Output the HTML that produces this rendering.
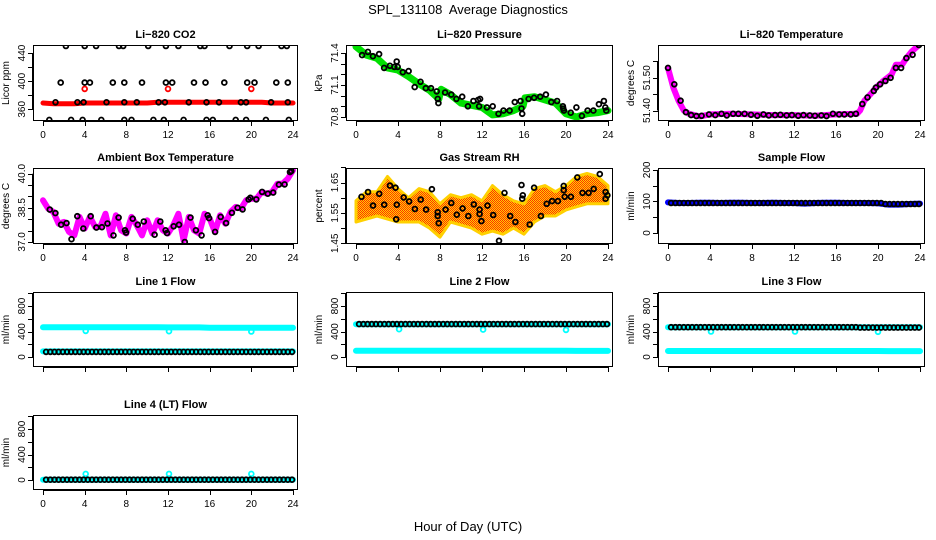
<!DOCTYPE html>
<html><head><meta charset="utf-8">
<style>
html,body{margin:0;padding:0;background:#fff;}
svg{display:block;font-family:"Liberation Sans",Arial,sans-serif;}
</style></head>
<body>
<svg id="chart" width="936" height="540" viewBox="0 0 936 540" xmlns="http://www.w3.org/2000/svg">
<rect x="0" y="0" width="936" height="540" fill="#fff"/>
<text x="468" y="14" text-anchor="middle" font-size="13" xml:space="preserve">SPL_131108  Average Diagnostics</text>
<text x="468" y="531" text-anchor="middle" font-size="13">Hour of Day (UTC)</text>
</svg>
<script>
// ---------- data ----------
const xTicks = [0,4,8,12,16,20,24];

// CO2
const co2TraceHours = [0,1,2,3,4,5,6,7,8,9,10,11,12,13,14,15,16,17,18,19,20,21,22,23,24];
const co2TraceVals = [369,368,368,368,369,369,369,369,369,369,369,370,370,370,370,370,370,370,370,370,370,370,369,369,369];
const co2OutlierHours = [4,12,20];
const co2OutlierVals = [389,389,389];
const co2BlackHours = [2.2,4.0,5.1,7.3,7.7,10.1,11.8,13.0,15.1,15.5,17.9,19.6,20.7,22.9,23.4,
 1.7,4.0,4.5,6.7,7.8,9.5,11.8,12.4,14.5,15.6,17.4,19.6,20.3,22.4,23.5,
 1.2,3.3,3.9,6.1,7.8,9.0,11.1,11.7,14.0,15.7,16.9,19.0,19.5,21.9,23.5,
 0.6,2.7,3.8,5.6,7.8,8.5,10.6,11.6,13.5,15.7,16.3,18.5,19.5,21.4,23.6];
const co2BlackVals = [450,450,450,450,450,450,450,450,450,450,450,450,450,450,450,
 398,398,398,398,398,398,398,398,398,398,398,398,398,398,398,
 370,370,370,370,370,370,370,370,370,370,370,370,370,370,370,
 345,345,345,345,345,345,345,345,345,345,345,345,345,345,345];

// Pressure
const presTraceHours = [0,1,2,3,4,5,6,7,7.9,8.1,9,10,11,12,13,14,15,15.9,16.1,17,18,19,20,21,22,23,24];
const presTraceVals = [71.46,71.38,71.35,71.26,71.24,71.18,71.11,71.05,70.97,71.06,71.01,70.93,70.91,70.89,70.82,70.83,70.86,70.90,70.98,70.99,70.96,70.93,70.83,70.80,70.83,70.84,70.86];
const presBlackHours = [0.58,1.13,1.61,2.20,2.68,3.23,3.65,3.88,3.97,4.46,5.01,5.59,6.14,6.65,7.14,7.69,7.78,7.85,8.49,9.08,9.56,10.11,10.66,11.18,11.63,11.72,11.82,12.47,13.02,13.57,14.05,14.63,15.12,15.67,15.76,15.83,16.44,16.96,17.54,18.09,18.60,19.15,19.70,19.74,19.80,20.45,20.99,21.51,22.06,22.61,23.13,23.61,23.74,23.84];
const presBlackVals = [71.38,71.41,71.37,71.39,71.26,71.28,71.27,71.32,71.27,71.22,71.23,71.08,71.13,71.07,71.07,71.04,70.97,70.93,71.03,71.01,70.97,70.99,70.90,70.95,70.96,70.90,70.97,70.89,70.90,70.83,70.86,70.86,70.94,70.95,70.88,70.83,70.97,70.98,70.99,71.01,70.94,70.95,70.90,70.88,70.86,70.84,70.89,70.81,70.86,70.86,70.92,70.95,70.89,70.86];

// Li-820 temperature
const tempTraceHours = [0,0.5,1,1.5,2,3,4,6,8,10,12,14,16,18,18.3,18.7,19.3,19.8,20.5,21.3,21.7,22.3,22.7,23.2,23.9];
const tempTraceVals = [51.53,51.47,51.43,51.40,51.39,51.382,51.388,51.39,51.388,51.386,51.386,51.384,51.388,51.39,51.40,51.43,51.45,51.47,51.49,51.51,51.54,51.54,51.56,51.58,51.60];
const tempBlackHours = [0,0.6,1.2,1.7,2.2,2.7,3.2,3.9,4.5,5.1,5.6,6.2,6.7,7.3,7.9,8.5,9.1,9.6,10.2,10.7,11.3,11.8,12.4,12.9,13.5,14.0,14.6,15.1,15.7,16.3,16.8,17.4,17.9,18.5,19.0,19.6,19.8,20.2,20.7,21.2,21.7,22.2,22.7,23.3,23.9];
const tempBlackVals = [51.53,51.48,51.43,51.395,51.386,51.383,51.384,51.388,51.386,51.39,51.385,51.39,51.39,51.39,51.387,51.384,51.388,51.385,51.386,51.387,51.385,51.386,51.384,51.386,51.385,51.384,51.385,51.383,51.39,51.388,51.388,51.388,51.39,51.42,51.44,51.46,51.47,51.48,51.49,51.50,51.53,51.53,51.56,51.57,51.60];

// Ambient box temperature
const ambTraceHours = [0,0.5,1,1.5,2,2.5,3,3.5,4,4.5,5,5.5,6,6.5,7,7.5,8,8.5,9,9.5,10,10.5,11,11.5,12,12.5,13,13.5,14,14.5,15,15.5,16,16.5,17,17.5,18,18.5,19,19.5,20,20.5,21,21.5,22,22.5,23,23.5,24];
const ambTraceVals = [38.83,38.46,38.32,37.80,37.88,37.44,37.29,38.10,37.59,38.10,37.66,37.66,38.24,37.29,38.17,37.51,37.37,38.10,37.73,37.29,37.95,37.37,37.95,37.51,37.37,37.73,38.24,37.07,38.10,37.51,37.37,38.24,38.02,37.44,38.17,37.80,38.32,38.54,38.46,38.83,38.90,38.90,39.20,39.12,39.20,39.56,39.56,39.78,40.15];
const ambBlackHours = [0.65,1.19,1.74,2.26,2.74,3.29,3.87,4.58,5.13,5.65,6.19,6.77,7.26,7.87,7.97,8.61,9.1,9.68,10.71,11.26,11.77,11.9,12.55,13.06,13.61,14.16,14.68,15.23,15.81,15.94,16.52,17.06,17.58,18.13,18.68,19.16,19.74,19.9,20.48,21.03,21.58,22.1,22.65,23.19,23.71,23.84];
const ambBlackVals = [38.42,38.27,37.76,37.83,37.12,38.13,37.59,38.13,37.63,37.65,37.81,37.29,38.07,37.51,37.41,38.02,37.76,37.9,37.32,37.9,37.51,37.39,37.69,37.76,37.0,38.07,37.51,37.29,38.17,38.05,37.44,38.1,37.83,38.28,38.5,38.43,38.87,38.94,38.87,39.2,39.12,39.17,39.52,39.53,40.07,40.12];

// Gas stream RH
const rhBandHours = [0,1,2,3,4,5,6,7,8,9,10,11,12,13,14,15,16,17,18,19,20,21,22,23,24];
const rhBandLow = [1.52,1.53,1.54,1.53,1.52,1.52,1.52,1.50,1.47,1.52,1.51,1.50,1.48,1.49,1.48,1.50,1.48,1.52,1.54,1.54,1.56,1.57,1.58,1.58,1.58];
const rhBandHigh = [1.59,1.62,1.62,1.67,1.63,1.60,1.63,1.62,1.58,1.61,1.60,1.61,1.59,1.64,1.61,1.59,1.58,1.63,1.64,1.62,1.64,1.67,1.68,1.67,1.64];
const rhBlackHours = [0.52,1.14,1.62,2.21,2.69,3.24,3.76,3.89,3.83,4.54,5.06,5.61,6.16,6.68,7.23,7.78,7.78,7.88,8.53,9.08,9.6,10.15,10.7,11.22,11.77,11.77,11.94,12.52,13.07,13.62,14.14,14.69,15.18,15.76,15.89,15.83,16.54,16.96,17.61,18.16,18.68,19.23,19.78,19.78,19.88,20.47,21.08,21.57,22.15,22.64,23.22,23.77,23.77,23.94];
const rhBlackVals = [1.603,1.619,1.574,1.613,1.577,1.640,1.633,1.577,1.529,1.601,1.588,1.563,1.594,1.561,1.628,1.552,1.540,1.516,1.561,1.583,1.544,1.565,1.540,1.578,1.561,1.546,1.523,1.574,1.543,1.458,1.616,1.540,1.520,1.642,1.608,1.597,1.512,1.633,1.540,1.580,1.589,1.589,1.639,1.625,1.603,1.603,1.667,1.616,1.616,1.629,1.678,1.619,1.597,1.608];

// Flow panels
const flowTraceHours = [0,1,2,3,4,5,6,7,8,9,10,11,12,13,14,15,16,17,18,19,20,21,22,23,24];
const flowBlackHours = [0.3,0.7,1.1,1.5,1.9,2.3,2.7,3.1,3.5,3.9,4.3,4.7,5.1,5.5,5.9,6.3,6.7,7.1,7.5,7.9,8.3,8.7,9.1,9.5,9.9,10.3,10.7,11.1,11.5,11.9,12.3,12.7,13.1,13.5,13.9,14.3,14.7,15.1,15.5,15.9,16.3,16.7,17.1,17.5,17.9,18.3,18.7,19.1,19.5,19.9,20.3,20.7,21.1,21.5,21.9,22.3,22.7,23.1,23.5,23.9];
const flowOutlierHours = [4.1,12.1,20.0];

const sampleTraceVals = [97,95,95,96,96,95,96,96,95,95,96,95,95,93,95,96,96,95,95,95,94,90,90,92,93];
const sampleBlackVals = [95,95,95,95,95,95,95,95,95,95, 95,95,95,95,95,95,95,95,95,95, 95,95,95,95,95,95,95,95,95,95, 95,95,95,95,95,95,95,95,95,95, 95,95,95,95,95,95,95,95,95,95, 95,92,92,92,92,92,92,92,92,92];

const line1UpperVals = [468,468,468,467,467,467,467,467,467,466,466,466,465,465,465,465,460,460,460,458,458,458,458,458,458];
const line1LowerVals = [88,88,88,88,88,88,88,88,88,88,88,88,88,88,88,88,88,88,88,88,88,88,88,88,88];
const line1BlackVals = [80,80,80,80,80,80,80,80,80,80, 80,80,80,80,80,80,80,80,80,80, 80,80,80,80,80,80,80,80,80,80, 80,80,80,80,80,80,80,80,80,80, 80,80,80,80,80,80,80,80,80,80, 80,80,80,80,80,80,80,80,80,80];
const line1OutlierVals = [410,405,400];

const line2UpperVals = [515,515,515,515,515,515,515,515,515,515,515,515,515,515,515,515,515,515,515,515,515,515,515,515,515];
const line2LowerVals = [97,97,97,97,97,97,97,97,97,97,97,97,97,97,97,97,97,97,97,97,97,95,95,95,95];
const line2BlackVals = [517,517,517,517,517,517,517,517,517,517, 517,517,517,517,517,517,517,517,517,517, 517,517,517,517,517,517,517,517,517,517, 517,517,517,517,517,517,517,517,517,517, 517,517,517,517,517,517,517,517,517,517, 517,517,517,517,517,517,517,517,517,517];
const line2OutlierVals = [436,430,425];

const line3UpperVals = [468,468,468,468,468,468,468,468,468,468,468,468,468,468,468,468,468,468,468,468,468,468,468,468,468];
const line3LowerVals = [94,94,94,94,94,94,94,94,94,94,94,94,94,94,94,94,94,94,94,94,94,92,92,92,92];
const line3BlackVals = [468,468,468,468,468,468,468,468,468,468, 468,468,468,468,468,468,468,468,468,468, 468,468,468,468,468,468,468,468,468,468, 468,468,468,468,468,468,468,468,468,468, 468,468,468,468,468,462,462,462,462,462, 462,462,462,462,462,462,462,462,462,462];
const line3OutlierVals = [400,400,395];

const line4TraceVals = [5,5,5,5,5,5,5,5,5,5,5,5,5,5,5,5,5,5,5,5,5,5,5,5,5];
const line4BlackVals = [5,5,5,5,5,5,5,5,5,5, 5,5,5,5,5,5,5,5,5,5, 5,5,5,5,5,5,5,5,5,5, 5,5,5,5,5,5,5,5,5,5, 5,5,5,5,5,5,5,5,5,5, 5,5,5,5,5,5,5,5,5,5];
const line4OutlierVals = [95,95,95];

// ---------- drawing ----------
const NS = "http://www.w3.org/2000/svg";
const svg = document.getElementById("chart");
function mk(tag, parent, attrs) {
  const e = document.createElementNS(NS, tag);
  for (const k in attrs) e.setAttribute(k, attrs[k]);
  parent.appendChild(e);
  return e;
}
const COLS = [[33,298],[346,613],[658,925]];
const ROWS = [[45,121],[168,244],[292,367],[415,490]];

function makePanel(key, col, row, ylim, yticks, ylabels, title, ylab, showX) {
  const l = COLS[col][0], r = COLS[col][1], t = ROWS[row][0], b = ROWS[row][1];
  const g = mk("g", svg, {});
  
  
  const x0 = l + 10, x24 = r - 5;
  const sx = h => x0 + h * (x24 - x0) / 24;
  const sy = v => b - (v - ylim[0]) / (ylim[1] - ylim[0]) * (b - t);
  const clipId = "clip-" + key;
  const cp = mk("clipPath", g, {id: clipId});
  mk("rect", cp, {x: l, y: t, width: r - l, height: b - t});
  const plot = mk("g", g, {"clip-path": "url(#" + clipId + ")"});
  
  
  const frame = mk("rect", g, {x: l + 0.5, y: t + 0.5, width: r - l - 1, height: b - t - 1, fill: "none", stroke: "#000", "stroke-width": 1});
  
  
  const tt = mk("text", g, {x: (l + r) / 2, y: t - 7, "text-anchor": "middle", "font-size": 11, "font-weight": "bold"});
  tt.textContent = title;
  
  
  const yl = mk("text", g, {x: 0, y: 0, "text-anchor": "middle", "font-size": 10, transform: "translate(" + (l - 24) + "," + ((t + b) / 2) + ") rotate(-90)"});
  yl.textContent = ylab;
  
  
  const ya = mk("g", g, {});
  
  
  mk("line", ya, {x1: l - 0.5, x2: l - 0.5, y1: sy(yticks[0]), y2: sy(yticks[yticks.length - 1]), stroke: "#000"});
  yticks.forEach(v => {
    const y = Math.round(sy(v)) + 0.5;
    mk("line", ya, {x1: l - 5, x2: l, y1: y, y2: y, stroke: "#000"});
  });
  ylabels.forEach(lab => {
    const y = sy(parseFloat(lab));
    const tx = mk("text", ya, {x: 0, y: 0, "text-anchor": "middle", "font-size": 10, transform: "translate(" + (l - 8) + "," + y + ") rotate(-90)"});
    tx.textContent = lab;
    
    
  });
  const xa = mk("g", g, {});
  
  
  mk("line", xa, {x1: sx(0), x2: sx(24), y1: b + 0.5, y2: b + 0.5, stroke: "#000"});
  xTicks.forEach(h => {
    const x = Math.round(sx(h)) + 0.5;
    mk("line", xa, {x1: x, x2: x, y1: b, y2: b + 5, stroke: "#000"});
    if (showX) {
      const tx = mk("text", xa, {x: sx(h), y: b + 17, "text-anchor": "middle", "font-size": 10});
      tx.textContent = String(h);
      
      
    }
  });
  return {plot, sx, sy};
}

function trace(p, key, hours, vals, color, width) {
  const pts = hours.map((h, i) => p.sx(h).toFixed(1) + "," + p.sy(vals[i]).toFixed(1)).join(" ");
  const pl = mk("polyline", p.plot, {points: pts, fill: "none", stroke: color, "stroke-width": width, "stroke-linejoin": "round", "stroke-linecap": "round"});
  
  
  return pl;
}
function circles(p, key, hours, vals, color, r, sw) {
  const g = mk("g", p.plot, {});
  
  
  hours.forEach((h, i) => {
    const c = mk("circle", g, {cx: p.sx(h).toFixed(1), cy: p.sy(vals[i]).toFixed(1), r: r, fill: "none", stroke: color, "stroke-width": sw});
    
    
  });
}
const BR = 2.4, BW = 1.8;

let p = makePanel("co2", 0, 0, [343.4, 451.4], [360,380,400,420,440], ["360","400","440"], "Li\u2212820 CO2", "Licor ppm", true);
trace(p, "co2-red-trace", co2TraceHours, co2TraceVals, "#ff0000", 5);
circles(p, "co2-red-outliers", co2OutlierHours, co2OutlierVals, "#ff0000", BR, BW);
circles(p, "co2-black-points", co2BlackHours, co2BlackVals, "#000", BR, BW);

p = makePanel("pressure", 1, 0, [70.7625, 71.475], [70.8,70.9,71.0,71.1,71.2,71.3,71.4], ["70.8","71.1","71.4"], "Li\u2212820 Pressure", "kPa", true);
trace(p, "pressure-green-trace", presTraceHours, presTraceVals, "#00e000", 7);
circles(p, "pressure-black-points", presBlackHours, presBlackVals, "#000", BR, BW);

p = makePanel("li-temp", 2, 0, [51.368, 51.60], [51.40,51.45,51.50,51.55], ["51.40","51.50"], "Li\u2212820 Temperature", "degrees C", true);
trace(p, "li-temp-magenta-trace", tempTraceHours, tempTraceVals, "#ff00ff", 6);
circles(p, "li-temp-black-points", tempBlackHours, tempBlackVals, "#000", BR, BW);

p = makePanel("ambient", 0, 1, [36.91, 40.25], [37.0,37.5,38.0,38.5,39.0,39.5,40.0], ["37.0","38.5","40.0"], "Ambient Box Temperature", "degrees C", true);
trace(p, "ambient-magenta-trace", ambTraceHours, ambTraceVals, "#ff00ff", 6);
circles(p, "ambient-black-points", ambBlackHours, ambBlackVals, "#000", BR, BW);

p = makePanel("rh", 1, 1, [1.4476, 1.698], [1.45,1.50,1.55,1.60,1.65,1.70], ["1.45","1.55","1.65"], "Gas Stream RH", "percent", true);
(function(){
  const up = rhBandHours.map((h,i) => p.sx(h).toFixed(1) + "," + p.sy(rhBandHigh[i]).toFixed(1));
  const dn = rhBandHours.map((h,i) => p.sx(h).toFixed(1) + "," + p.sy(rhBandLow[i]).toFixed(1)).reverse();
  const pat = mk("pattern", p.plot, {id: "rhdots", width: 2, height: 2, patternUnits: "userSpaceOnUse"});
  mk("rect", pat, {x: 0, y: 0, width: 2, height: 2, fill: "#ffd000"});
  mk("rect", pat, {x: 0, y: 0, width: 1, height: 1, fill: "#ff3000"});
  mk("rect", pat, {x: 1, y: 1, width: 1, height: 1, fill: "#ff3000"});
  const band = mk("polygon", p.plot, {points: up.concat(dn).join(" "), fill: "url(#rhdots)", stroke: "#ffd000", "stroke-width": 3, "stroke-linejoin": "round"});
  
  
})();
circles(p, "rh-black-points", rhBlackHours, rhBlackVals, "#000", BR, BW);

p = makePanel("sample-flow", 2, 1, [-35, 206], [0,50,100,150,200], ["0","100","200"], "Sample Flow", "ml/min", true);
trace(p, "sample-flow-blue-trace", flowTraceHours, sampleTraceVals, "#0000ff", 6);
circles(p, "sample-flow-black-points", flowBlackHours, sampleBlackVals, "#000", BR, BW);

const FLIM = [-157, 1020], FT = [0,200,400,600,800,1000], FL = ["0","400","800"];
p = makePanel("line1", 0, 2, FLIM, FT, FL, "Line 1 Flow", "ml/min", false);
trace(p, "line1-cyan-upper", flowTraceHours, line1UpperVals, "#00ffff", 6);
trace(p, "line1-cyan-lower", flowTraceHours, line1LowerVals, "#00ffff", 6);
circles(p, "line1-cyan-outliers", flowOutlierHours, line1OutlierVals, "#00ffff", BR, BW);
circles(p, "line1-black-points", flowBlackHours, line1BlackVals, "#000", BR, BW);

p = makePanel("line2", 1, 2, FLIM, FT, FL, "Line 2 Flow", "ml/min", false);
trace(p, "line2-cyan-upper", flowTraceHours, line2UpperVals, "#00ffff", 6);
trace(p, "line2-cyan-lower", flowTraceHours, line2LowerVals, "#00ffff", 6);
circles(p, "line2-cyan-outliers", flowOutlierHours, line2OutlierVals, "#00ffff", BR, BW);
circles(p, "line2-black-points", flowBlackHours, line2BlackVals, "#000", BR, BW);

p = makePanel("line3", 2, 2, FLIM, FT, FL, "Line 3 Flow", "ml/min", false);
trace(p, "line3-cyan-upper", flowTraceHours, line3UpperVals, "#00ffff", 6);
trace(p, "line3-cyan-lower", flowTraceHours, line3LowerVals, "#00ffff", 6);
circles(p, "line3-cyan-outliers", flowOutlierHours, line3OutlierVals, "#00ffff", BR, BW);
circles(p, "line3-black-points", flowBlackHours, line3BlackVals, "#000", BR, BW);

p = makePanel("line4", 0, 3, FLIM, FT, FL, "Line 4 (LT) Flow", "ml/min", true);
trace(p, "line4-cyan-trace", flowTraceHours, line4TraceVals, "#00ffff", 6);
circles(p, "line4-cyan-outliers", flowOutlierHours, line4OutlierVals, "#00ffff", BR, BW);
circles(p, "line4-black-points", flowBlackHours, line4BlackVals, "#000", BR, BW);
</script>
</body></html>
